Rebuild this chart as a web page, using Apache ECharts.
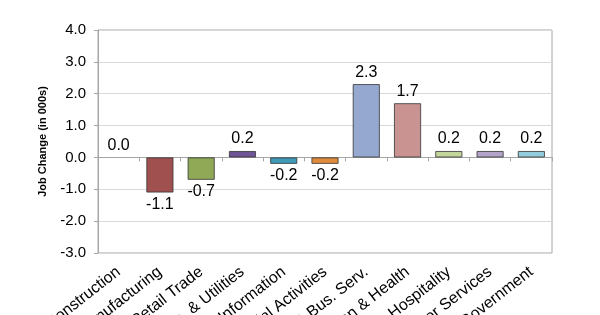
<!DOCTYPE html>
<html>
<head>
<meta charset="utf-8">
<script src="https://cdn.jsdelivr.net/npm/echarts@6/dist/echarts.min.js"></script>
<style>
  html, body { margin: 0; padding: 0; background: #fff; }
  #main { width: 600px; height: 315px; }
</style>
</head>
<body>
<div id="main"></div>
<script>
// 行业分类
const categories = ['Construction', 'Manufacturing', 'Retail Trade', 'Trans. & Utilities', 'Information',
  'Financial Activities', 'Prof. & Bus. Serv.', 'Education & Health', 'Leisure & Hospitality',
  'Other Services', 'Government']
// 就业变化 (千)
const jobChange = [0.0, -1.1, -0.7, 0.2, -0.2, -0.2, 2.3, 1.7, 0.2, 0.2, 0.2]
const barColors = ['#4F81BD', '#A0504E', '#8FA957', '#6F5596', '#3E9AB6', '#E08B3C',
  '#95A9D0', '#C99391', '#C3D69B', '#B3A3C8', '#93CDDD']

const chart = echarts.init(document.getElementById('main'))

const option = {
  animation: false,
  grid: {
    left: 98,
    right: 48,
    top: 30,
    bottom: 62,
    containLabel: false,
    outerBoundsMode: 'none',
    show: true,
    borderColor: '#A6A6A6',
    borderWidth: 1
  },
  xAxis: {
    type: 'category',
    data: categories,
    axisLine: { onZero: true, lineStyle: { color: '#A6A6A6' } },
    axisTick: { show: true, length: 4, lineStyle: { color: '#A6A6A6' } },
    axisLabel: {
      rotate: 38,
      interval: 0,
      margin: 17,
      color: '#000',
      fontFamily: 'Liberation Sans, Arial',
      fontSize: 16
    }
  },
  yAxis: {
    type: 'value',
    min: -3,
    max: 4,
    interval: 1,
    name: 'Job Change (in 000s)',
    nameLocation: 'middle',
    nameGap: 50,
    nameTextStyle: {
      color: '#000',
      fontWeight: 'bold',
      fontSize: 11,
      fontFamily: 'Liberation Sans, Arial'
    },
    axisLine: { show: true, lineStyle: { color: '#A6A6A6' } },
    axisTick: { show: true, length: 4, lineStyle: { color: '#A6A6A6' } },
    axisLabel: {
      formatter: v => v.toFixed(1),
      color: '#000',
      fontSize: 15,
      margin: 12,
      fontFamily: 'Liberation Sans, Arial'
    },
    splitLine: { lineStyle: { color: '#D9D9D9' } }
  },
  series: [{
    type: 'bar',
    barWidth: 27,
    data: jobChange.map((v, i) => ({
      value: v,
      itemStyle: { color: barColors[i], borderWidth: v === 0 ? 0 : 0.8 },
      label: { position: v < 0 ? 'bottom' : 'top' }
    })),
    itemStyle: { borderColor: '#333', borderWidth: 0.8 },
    label: {
      show: true,
      formatter: p => p.value.toFixed(1),
      color: '#000',
      fontSize: 16,
      distance: 4,
      fontFamily: 'Liberation Sans, Arial'
    }
  }]
}

chart.setOption(option)
</script>
</body>
</html>
